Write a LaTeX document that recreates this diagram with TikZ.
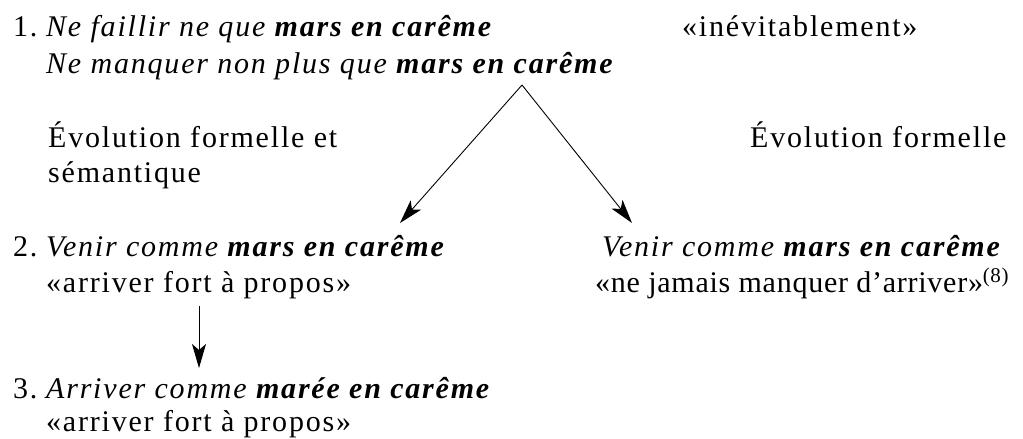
\documentclass[tikz,border=0pt]{standalone}
\usepackage{fontspec}
\setmainfont{Liberation Serif}[LetterSpace=6]
\usetikzlibrary{arrows.meta}

\tikzset{
  txt/.style={anchor=base west, inner sep=0pt, font=\fontsize{30}{34}\selectfont},
  serre/.style={font=\fontsize{30}{34}\selectfont\addfontfeature{LetterSpace=2.5}},
  fleche/.style={line width=0.9pt, -{Stealth[length=24pt, width=14pt, inset=6pt]}}
}

\begin{document}
\begin{tikzpicture}[x=1pt, y=-1pt]
			%%%%% START %%%%%
			\useasboundingbox (0, 0) rectangle (1023, 439);
			
			\node[txt] (num1) at (13, 36) {1.};
			\node[txt] (l1a) at (46, 36) {\textit{Ne faillir ne que \textbf{mars en carême}}};
			\node[txt] (l1b) at (46, 73) {\textit{Ne manquer non plus que \textbf{mars en carême}}};
			\node[txt] (inev) at (682, 36) {«inévitablement»};
			
			\node[txt] (evoA) at (48, 147) {Évolution formelle et};
			\node[txt] (evoB) at (48, 182) {sémantique};
			\node[txt] (evoC) at (750, 147) {Évolution formelle};
			
			\node[txt] (num2) at (13, 256) {2.};
			\node[txt] (l2a) at (46, 256) {\textit{Venir comme \textbf{mars en carême}}};
			\node[txt] (l2b) at (46, 292) {«arriver fort à propos»};
			\node[txt] (r2a) at (602, 256) {\textit{Venir comme \textbf{mars en carême}}};
			\node[txt, serre] (r2b) at (595, 292) {«ne jamais manquer d’arriver»\textsuperscript{(8)}};
			
			\node[txt] (num3) at (13, 398) {3.};
			\node[txt] (l3a) at (46, 398) {\textit{Arriver comme \textbf{marée en carême}}};
			\node[txt] (l3b) at (46, 431) {«arriver fort à propos»};
			
			\coordinate (apex) at (522, 85);
			\coordinate (tipL) at (400, 223);
			\coordinate (tipR) at (632, 223);
			\coordinate (topV) at (199, 306);
			\coordinate (tipV) at (199, 368);
			
			\draw[fleche] (apex) -- (tipL);
			\draw[fleche] (apex) -- (tipR);
			\draw[fleche] (topV) -- (tipV);
			
			%%%%% END %%%%%
\end{tikzpicture}
\end{document}
